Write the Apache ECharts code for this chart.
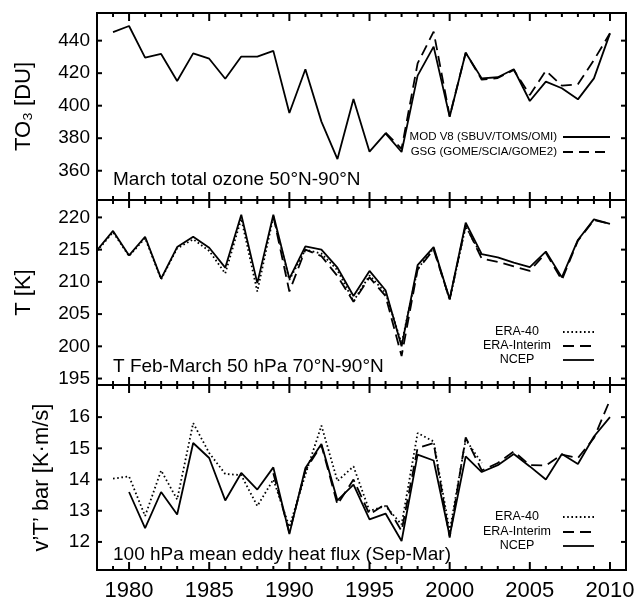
<!DOCTYPE html>
<html>
<head>
<meta charset="utf-8">
<script src="https://cdn.jsdelivr.net/npm/echarts@6/dist/echarts.min.js"></script>
<style>
  html, body { margin: 0; padding: 0; background: #fff; }
  #chart { width: 638px; height: 602px; }
</style>
</head>
<body>
<div id="chart"></div>
<script>
// years shown on the shared x axis
const majorYears = [1980, 1985, 1990, 1995, 2000, 2005, 2010];
const minorYears = [1979, 1981, 1982, 1983, 1984, 1986, 1987, 1988, 1989, 1991, 1992, 1993, 1994,
  1996, 1997, 1998, 1999, 2001, 2002, 2003, 2004, 2006, 2007, 2008, 2009];

// panel 1: March total ozone [DU]
const modYears = [1979, 1980, 1981, 1982, 1983, 1984, 1985, 1986, 1987, 1988, 1989, 1990, 1991, 1992, 1993, 1994,
  1995, 1996, 1997, 1998, 1999, 2000, 2001, 2002, 2003, 2004, 2005, 2006, 2007, 2008, 2009, 2010];
const modV8 = [445.2, 449, 429.5, 431.8, 415.2, 432.2, 428.9, 416.6, 430.2, 430.2, 433.7, 395.5, 422.4, 390.2, 367.2, 404.1,
  371.7, 383.0, 371.5, 418.5, 436.3, 393.2, 432.6, 416.8, 417.5, 422.4, 402.9, 414.8, 410.7, 403.9, 416.8, 444.5];
const gsgYears = [1996, 1997, 1998, 1999, 2000, 2001, 2002, 2003, 2004, 2005, 2006, 2007, 2008, 2009, 2010];
const gsg = [383.5, 373.5, 426, 445.5, 393.5, 432.6, 416, 417, 422, 406.6, 421.5, 412.3, 413.2, 428.1, 444.5];
const ozoneTicks = [360, 380, 400, 420, 440];

// panel 2: Feb-March 50 hPa temperature [K]
const tNcepYears = [1978, 1979, 1980, 1981, 1982, 1983, 1984, 1985, 1986, 1987, 1988, 1989, 1990, 1991, 1992, 1993, 1994,
  1995, 1996, 1997, 1998, 1999, 2000, 2001, 2002, 2003, 2004, 2005, 2006, 2007, 2008, 2009, 2010];
const tNcep = [214.9, 217.9, 214.1, 217.0, 210.5, 215.4, 217.0, 215.3, 212.2, 220.4, 209.8, 220.4, 210.5, 215.5, 215.0, 212.2, 207.8,
  211.7, 208.7, 200.0, 212.6, 215.4, 207.3, 219.2, 214.3, 213.8, 213.0, 212.3, 214.7, 210.7, 216.5, 219.7, 219.0];
const tEra40Years = [1978, 1979, 1980, 1981, 1982, 1983, 1984, 1985, 1986, 1987, 1988, 1989, 1990, 1991, 1992, 1993, 1994,
  1995, 1996, 1997, 1998, 1999, 2000, 2001, 2002];
const tEra40 = [214.8, 217.7, 214.0, 216.8, 210.4, 215.2, 216.6, 214.8, 211.3, 219.8, 208.5, 220.1, 210.3, 215.0, 214.4, 211.8, 207.0,
  211.0, 208.3, 200.4, 212.0, 215.2, 207.2, 218.6, 214.0];
const tEraIntYears = [1989, 1990, 1991, 1992, 1993, 1994, 1995, 1996, 1997, 1998, 1999, 2000, 2001, 2002, 2003, 2004, 2005,
  2006, 2007, 2008, 2009, 2010];
const tEraInt = [220.2, 208.5, 215.0, 214.0, 210.9, 206.9, 210.7, 207.8, 198.5, 211.9, 215.0, 207.3, 218.8, 213.6, 213.1, 212.4, 211.7,
  214.5, 210.3, 216.4, 219.6, 219.0];
const tempTicks = [195, 200, 205, 210, 215, 220];

// panel 3: 100 hPa mean eddy heat flux [K m/s]
const fEra40Years = [1979, 1980, 1981, 1982, 1983, 1984, 1985, 1986, 1987, 1988, 1989, 1990, 1991, 1992, 1993, 1994,
  1995, 1996, 1997, 1998, 1999, 2000, 2001, 2002];
const fEra40 = [14.03, 14.1, 12.83, 14.29, 13.36, 15.81, 14.85, 14.18, 14.14, 13.15, 14.0, 12.48, 14.16, 15.73, 13.95, 14.42,
  12.99, 13.15, 12.56, 15.49, 15.22, 12.35, 15.28, 14.53];
const fNcepYears = [1980, 1981, 1982, 1983, 1984, 1985, 1986, 1987, 1988, 1989, 1990, 1991, 1992, 1993, 1994,
  1995, 1996, 1997, 1998, 1999, 2000, 2001, 2002, 2003, 2004, 2005, 2006, 2007, 2008, 2009, 2010];
const fNcep = [13.6, 12.44, 13.6, 12.88, 15.17, 14.69, 13.33, 14.21, 13.68, 14.39, 12.25, 14.37, 15.14, 13.33, 13.84,
  12.72, 12.91, 12.03, 14.8, 14.61, 12.19, 14.74, 14.24, 14.46, 14.82, 14.42, 14.0, 14.82, 14.5, 15.38, 16.0];
const fEraIntYears = [1989, 1990, 1991, 1992, 1993, 1994, 1995, 1996, 1997, 1998, 1999, 2000, 2001, 2002, 2003, 2004, 2005,
  2006, 2007, 2008, 2009, 2010];
const fEraInt = [14.2, 12.3, 14.3, 15.1, 13.2, 14.0, 12.88, 13.22, 12.35, 15.01, 15.17, 12.14, 15.35, 14.29, 14.53, 14.9, 14.46,
  14.45, 14.8, 14.69, 15.33, 16.55];
const fluxTicks = [12, 13, 14, 15, 16];

const FONT = 'Liberation Sans, Arial, Helvetica, sans-serif';
const BLACK = '#000';
const SOLID = 'solid';
const DASHED = [11, 6];
const DOTTED = [1.6, 2.6];
const X_MIN = 1978;
const X_MAX = 2011;

const panels = [
  { top: 13, height: 187, min: 342, max: 457, ticks: ozoneTicks, name: 'TO₃ [DU]', nameGap: 62 },
  { top: 200, height: 185, min: 194, max: 222.7, ticks: tempTicks, name: 'T [K]', nameGap: 62 },
  { top: 385, height: 186, min: 11.1, max: 17.03, ticks: fluxTicks, name: 'v’T’ bar [K·m/s]', nameGap: 44 }
];

const pairs = (xs, ys) => xs.map((x, i) => [x, ys[i]]);

function line(name, data, gridIndex, dash) {
  return {
    name, type: 'line', data,
    xAxisIndex: gridIndex, yAxisIndex: gridIndex,
    showSymbol: false, symbol: 'none', clip: true,
    lineStyle: { color: BLACK, width: 1.8, type: dash, cap: 'butt' }
  };
}

// legend rows drawn as text and a sample line
function legendRow(text, y, dash, textX, align, x1, x2, fontSize) {
  return [
    {
      type: 'text', x: textX, y,
      style: { text, fontSize, fontFamily: FONT, fill: BLACK, align, verticalAlign: 'middle' }
    },
    {
      type: 'line', shape: { x1, y1: y, x2, y2: y },
      style: { stroke: BLACK, lineWidth: 1.8, lineDash: dash === SOLID ? null : dash }
    }
  ];
}

function panelLabel(text, y) {
  return {
    type: 'text', x: 113, y,
    style: { text, fontSize: 19, fontFamily: FONT, fill: BLACK, align: 'left', verticalAlign: 'middle' }
  };
}

const labelsAndLegends = [].concat(
  panelLabel('March total ozone 50°N-90°N', 180),
  panelLabel('T Feb-March 50 hPa 70°N-90°N', 367),
  panelLabel('100 hPa mean eddy heat flux (Sep-Mar)', 555),
  legendRow('MOD V8 (SBUV/TOMS/OMI)', 137, SOLID, 557, 'right', 563, 610, 11.5),
  legendRow('GSG (GOME/SCIA/GOME2)', 152, [10, 6], 557, 'right', 563, 610, 11.5),
  legendRow('ERA-40', 332, DOTTED, 517, 'center', 563, 594, 12.5),
  legendRow('ERA-Interim', 346, DASHED, 517, 'center', 563, 594, 12.5),
  legendRow('NCEP', 360, SOLID, 517, 'center', 563, 594, 12.5),
  legendRow('ERA-40', 517, DOTTED, 517, 'center', 563, 594, 12.5),
  legendRow('ERA-Interim', 532, DASHED, 517, 'center', 563, 594, 12.5),
  legendRow('NCEP', 546, SOLID, 517, 'center', 563, 594, 12.5)
);

const option = {
  animation: false,
  backgroundColor: '#fff',
  grid: panels.map(p => ({
    left: 97, top: p.top, width: 529, height: p.height,
    show: true, borderColor: BLACK, borderWidth: 2
  })),
  xAxis: panels.map((p, i) => ({
    type: 'value', gridIndex: i, min: X_MIN, max: X_MAX, position: 'bottom',
    axisLine: { show: false }, axisTick: { show: false }, splitLine: { show: false },
    axisLabel: i === 2
      ? { show: true, customValues: majorYears, formatter: v => String(v),
          fontSize: 22, fontFamily: FONT, color: BLACK, margin: 10 }
      : { show: false }
  })),
  yAxis: panels.map((p, i) => ({
    type: 'value', gridIndex: i, min: p.min, max: p.max, position: 'left',
    name: p.name, nameLocation: 'middle', nameGap: p.nameGap, nameRotate: 90,
    nameTextStyle: { fontSize: 22, fontFamily: FONT, color: BLACK },
    axisLine: { show: false }, axisTick: { show: false }, splitLine: { show: false },
    axisLabel: { show: true, customValues: p.ticks, fontSize: 19, fontFamily: FONT, color: BLACK, margin: 7 }
  })),
  series: [
    line('MOD V8 (SBUV/TOMS/OMI)', pairs(modYears, modV8), 0, SOLID),
    line('GSG (GOME/SCIA/GOME2)', pairs(gsgYears, gsg), 0, DASHED),
    line('ERA-40', pairs(tEra40Years, tEra40), 1, DOTTED),
    line('ERA-Interim', pairs(tEraIntYears, tEraInt), 1, DASHED),
    line('NCEP', pairs(tNcepYears, tNcep), 1, SOLID),
    line('ERA-40', pairs(fEra40Years, fEra40), 2, DOTTED),
    line('ERA-Interim', pairs(fEraIntYears, fEraInt), 2, DASHED),
    line('NCEP', pairs(fNcepYears, fNcep), 2, SOLID)
  ],
  graphic: labelsAndLegends
};

const chart = echarts.init(document.getElementById('chart'), null, { renderer: 'canvas' });
chart.setOption(option);

// inward ticks on all four frame sides, positioned through each grid's own scales
const tickStroke = { stroke: BLACK, lineWidth: 2 };
const ticks = [];
panels.forEach((p, i) => {
  const px = v => chart.convertToPixel({ gridIndex: i }, v);
  [[majorYears, 8], [minorYears, 4]].forEach(([years, len]) => {
    years.forEach(yr => {
      const b = px([yr, p.min]);
      const t = px([yr, p.max]);
      ticks.push({ type: 'line', z: 100, shape: { x1: b[0], y1: b[1], x2: b[0], y2: b[1] - len }, style: Object.assign({}, tickStroke) });
      ticks.push({ type: 'line', z: 100, shape: { x1: t[0], y1: t[1], x2: t[0], y2: t[1] + len }, style: Object.assign({}, tickStroke) });
    });
  });
  p.ticks.forEach(v => {
    const l = px([X_MIN, v]);
    const r = px([X_MAX, v]);
    ticks.push({ type: 'line', z: 100, shape: { x1: l[0], y1: l[1], x2: l[0] + 5, y2: l[1] }, style: Object.assign({}, tickStroke) });
    ticks.push({ type: 'line', z: 100, shape: { x1: r[0], y1: r[1], x2: r[0] - 5, y2: r[1] }, style: Object.assign({}, tickStroke) });
  });
});
chart.setOption({ graphic: labelsAndLegends.concat(ticks) });
</script>
</body>
</html>
